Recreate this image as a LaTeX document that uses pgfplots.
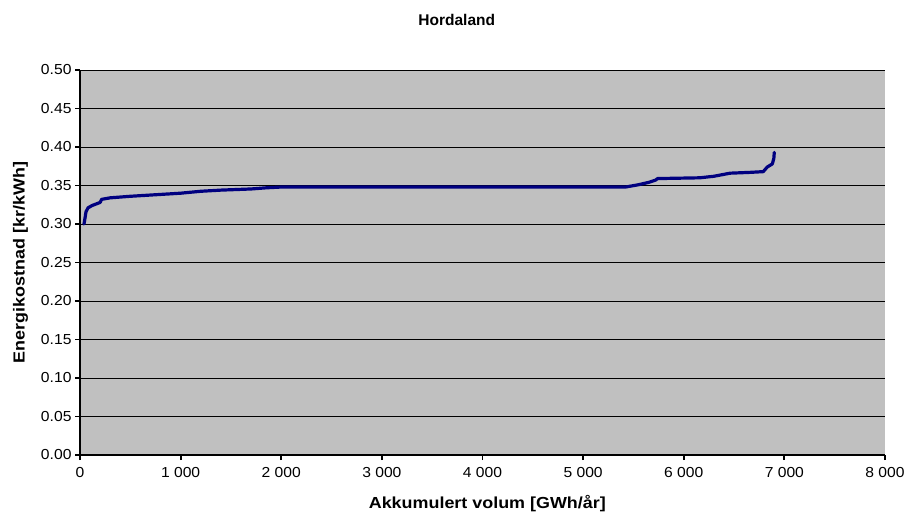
\documentclass[border=0pt]{standalone}
\usepackage{fontspec}
\setmainfont{Liberation Sans}
\newfontfamily\tickfont{Liberation Sans}[FakeStretch=1.08]
\newfontfamily\labfont{Liberation Sans}[FakeStretch=1.12]
\usepackage{pgfplots}
\pgfplotsset{compat=1.18}
\definecolor{bggray}{HTML}{C0C0C0}
\definecolor{navyline}{HTML}{000080}
\begin{document}
\begin{tikzpicture}[x=1pt,y=1pt]
\useasboundingbox (0,0) rectangle (910,512);
\begin{axis}[
  at={(80pt,57pt)}, anchor=south west,
  scale only axis, width=805pt, height=385pt,
  xmin=0, xmax=8000, ymin=0, ymax=0.5,
  xtick distance=1000, ytick distance=0.05,
  axis lines*=left,
  axis line style={line width=2.6pt, black},
  axis background/.style={fill=bggray},
  ymajorgrids, major grid style={black, line width=0.8pt},
  tick align=outside, major tick length=5pt,
  tick style={line width=1.8pt, black},
  /pgf/number format/assume math mode=true,
  xticklabel style={font=\tickfont\fontsize{14.5}{16}\selectfont, /pgf/number format/1000 sep={\ }, yshift=-4pt},
  yticklabel style={font=\tickfont\fontsize{14.5}{16}\selectfont, /pgf/number format/.cd, fixed, fixed zerofill, precision=2},
  title={Hordaland},
  title style={at={(0.468,1.114)}, anchor=center, font=\bfseries\fontsize{15.5}{17}\selectfont},
  xlabel={Akkumulert volum [GWh/år]},
  xlabel style={at={(0.506,-0.127)}, anchor=center, font=\labfont\bfseries\fontsize{16}{18}\selectfont},
  ylabel={Energikostnad [kr/kWh]},
  ylabel style={at={(-0.074,0.5)}, anchor=center, font=\labfont\bfseries\fontsize{16}{18}\selectfont},
  clip=false,
]
\addplot[navyline, line width=3.2pt, line join=round, line cap=round] coordinates {
(40,0.300)
(60,0.316)
(80,0.321)
(120,0.324)
(200,0.328)
(215,0.332)
(300,0.334)
(500,0.336)
(750,0.338)
(1000,0.340)
(1200,0.3425)
(1400,0.344)
(1700,0.3455)
(1850,0.347)
(2000,0.348)
(5420,0.348)
(5550,0.351)
(5650,0.354)
(5720,0.357)
(5740,0.359)
(6160,0.360)
(6300,0.362)
(6460,0.366)
(6650,0.367)
(6790,0.368)
(6830,0.374)
(6880,0.378)
(6895,0.385)
(6900,0.393)
};
\end{axis}
\end{tikzpicture}
\end{document}
